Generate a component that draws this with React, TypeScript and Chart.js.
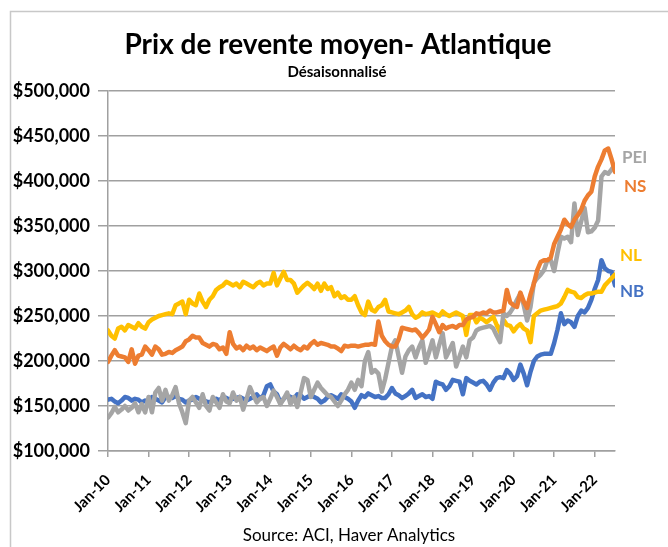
import React, { useEffect, useRef } from 'react';
import { Chart, registerables } from 'chart.js';

Chart.register(...registerables);

// Tick labels for the x axis (one per January)
const yearLabels = ['Jan-10', 'Jan-11', 'Jan-12', 'Jan-13', 'Jan-14', 'Jan-15', 'Jan-16', 'Jan-17', 'Jan-18', 'Jan-19', 'Jan-20', 'Jan-21', 'Jan-22'];

// Monthly values, in thousands of dollars, Jan-2010 .. Jul-2022
const peiValues = [
  137, 142, 149, 143, 146, 150, 145, 148, 153, 143, 152, 143,
  160, 143, 165, 170, 156, 168, 156, 162, 171, 153, 143, 131,
  156, 160, 154, 148, 163, 150, 145, 160, 154, 148, 163, 155,
  153, 165, 156, 160, 146, 158, 171, 162, 154, 158, 160, 150,
  158, 167, 160, 152, 158, 165, 152, 160, 149, 165, 181, 179,
  160, 168, 176, 170, 166, 162, 160, 155, 150, 156, 163, 168,
  176, 168, 179, 172, 200, 210, 187, 190, 186, 166, 180, 198,
  216, 223, 205, 187, 205, 212, 216, 204, 215, 223, 198, 210,
  223, 204, 218, 231, 204, 212, 220, 194, 205, 216, 204, 223,
  226, 234, 236, 237, 238, 239, 236, 228, 221, 253, 250, 254,
  260, 268, 275, 262, 245, 260, 287, 292, 296, 301, 312, 312,
  300, 320, 338, 336, 338, 332, 375, 340, 355, 370, 343, 344,
  348, 356, 405, 410, 408, 413, 418,
];

const nsValues = [
  199, 206, 212, 206, 205, 204, 199, 213, 197, 206, 207, 216,
  212, 207, 216, 213, 207, 208, 210, 209, 212, 214, 216, 222,
  224, 228, 226, 226, 220, 218, 216, 219, 218, 213, 215, 208,
  232, 219, 214, 216, 212, 217, 214, 216, 212, 215, 213, 211,
  214, 216, 206, 215, 219, 216, 213, 217, 214, 212, 216, 214,
  219, 222, 218, 220, 219, 218, 216, 216, 214, 211, 217, 216,
  217, 217, 216, 217, 218, 218, 219, 218, 244, 228, 222, 218,
  216, 216, 224, 237, 236, 235, 234, 235, 231, 226, 230, 235,
  249, 241, 232, 240, 236, 238, 239, 237, 240, 240, 246, 248,
  249, 253, 252, 254, 253, 256, 254, 254, 255, 256, 279, 265,
  262, 260, 276, 266, 259, 274, 286, 301, 310, 312, 312, 315,
  330, 338, 346, 357, 352, 349, 357, 362, 368, 378, 384, 388,
  405, 416, 424, 434, 436, 424, 410,
];

const nlValues = [
  234, 228, 225, 236, 238, 234, 240, 238, 236, 242, 238, 236,
  243, 246, 248, 250, 251, 252, 253, 252, 262, 264, 266, 252,
  268, 264, 262, 275, 266, 260, 268, 272, 279, 282, 284, 288,
  286, 284, 286, 282, 288, 286, 284, 282, 286, 288, 284, 286,
  286, 298, 284, 292, 299, 290, 290, 286, 276, 280, 284, 287,
  284, 280, 286, 278, 286, 280, 282, 272, 276, 270, 272, 268,
  268, 272, 262, 254, 251, 266, 257, 255, 260, 262, 268, 255,
  254, 253, 252, 254, 256, 260, 252, 248, 250, 254, 252, 253,
  254, 252, 250, 255, 252, 250, 252, 254, 252, 250, 229, 251,
  251, 243, 248, 246, 243, 246, 249, 240, 232, 246, 240, 239,
  233, 238, 241, 236, 234, 221, 250, 253, 256, 257, 258, 259,
  260, 261, 264, 271, 279, 277, 276, 271, 270, 273, 275, 275,
  276, 277, 277, 284, 288, 292, 296,
];

const nbValues = [
  157, 158, 155, 153, 156, 160, 159, 156, 158, 157, 154, 156,
  155, 160, 158, 156, 154, 160, 160, 159, 161, 158, 157, 154,
  156, 157, 160, 158, 157, 155, 154, 156, 158, 156, 160, 159,
  157, 158, 159, 160, 158, 156, 158, 160, 163, 158, 162, 172,
  174, 166, 163, 154, 158, 162, 160, 158, 163, 162, 158, 160,
  162, 160, 158, 154, 156, 160, 162, 160, 158, 163, 160, 158,
  155, 148, 156, 162, 160, 164, 162, 160, 161, 159, 159, 163,
  170, 164, 162, 159, 161, 164, 168, 159, 161, 163, 160, 161,
  158, 177, 175, 174, 168, 172, 179, 178, 177, 163, 181, 178,
  176, 174, 177, 178, 174, 168, 176, 181, 182, 181, 190, 186,
  179, 183, 196, 186, 173, 188, 200, 205, 207, 208, 208, 208,
  220, 235, 253, 241, 245, 243, 238, 250, 256, 254, 259, 268,
  280, 290, 312, 303, 300, 299, 284,
];

const seriesNames = ['PEI', 'NS', 'NL', 'NB'];
const seriesColors = ['#A5A5A5', '#ED7D31', '#FFC000', '#4472C4'];

const titleText = 'Prix de revente moyen- Atlantique';
const subtitleText = 'Désaisonnalisé';
const sourceText = 'Source: ACI, Haver Analytics';

const FONT = 'Lato, "Open Sans", sans-serif';
const GRID = '#a0a0a0';

export default function App() {
  const ref = useRef<HTMLCanvasElement>(null);

  useEffect(() => {
    const canvas = ref.current;
    if (!canvas) return;

    const toPoints = (arr: number[]) => arr.map((v, i) => ({ x: i, y: v }));
    const seriesData = [peiValues, nsValues, nlValues, nbValues];

    const labelPos: Record<string, [number, number]> = {
      PEI: [622, 158],
      NS: [624, 187],
      NL: [620, 256],
      NB: [620, 292],
    };

    const decor = {
      id: 'decor',
      beforeDraw(chart: any) {
        const ctx = chart.ctx;
        ctx.save();
        ctx.fillStyle = '#ffffff';
        ctx.fillRect(0, 0, chart.width, chart.height);
        ctx.strokeStyle = '#c8c8c8';
        ctx.lineWidth = 1.5;
        ctx.strokeRect(10.5, 11.5, 800, 800);
        ctx.restore();
      },
      afterDraw(chart: any) {
        const ctx = chart.ctx;
        ctx.save();
        ctx.fillStyle = '#000';
        ctx.textAlign = 'center';
        ctx.textBaseline = 'middle';
        ctx.font = `bold 28px ${FONT}`;
        ctx.fillText(titleText, 338, 45);
        ctx.font = `bold 15px ${FONT}`;
        ctx.fillText(subtitleText, 337, 72);
        ctx.font = `17px ${FONT}`;
        ctx.fillText(sourceText, 349, 536);
        ctx.textAlign = 'left';
        ctx.font = `bold 17px ${FONT}`;
        seriesNames.forEach((name, i) => {
          const [x, y] = labelPos[name];
          ctx.fillStyle = seriesColors[i];
          ctx.fillText(name, x, y);
        });
        ctx.restore();
      },
    };

    // drawing order: NS on top, then PEI, NL, NB
    const drawOrder = [1, 0, 2, 3];

    const chart = new Chart(canvas, {
      type: 'line',
      data: {
        datasets: seriesNames.map((name, i) => ({
          label: name,
          data: toPoints(seriesData[i]),
          borderColor: seriesColors[i],
          backgroundColor: seriesColors[i],
          borderWidth: 4.5,
          pointRadius: 0,
          tension: 0,
          borderJoinStyle: 'round' as const,
          borderCapStyle: 'round' as const,
          order: drawOrder[i],
        })),
      },
      options: {
        animation: false,
        responsive: false,
        layout: { padding: { top: 91, right: 53, bottom: 0, left: 0 } },
        plugins: {
          legend: { display: false },
          tooltip: { enabled: false },
          title: { display: false },
        },
        scales: {
          x: {
            type: 'linear',
            min: 0,
            max: peiValues.length - 1,
            afterBuildTicks: (s: any) => {
              s.ticks = yearLabels.map((_, k) => ({ value: k * 12 }));
            },
            afterFit: (s: any) => {
              s.height = 96;
            },
            ticks: {
              autoSkip: false,
              minRotation: 45,
              maxRotation: 45,
              padding: 14,
              color: '#000',
              font: { family: FONT, size: 15, weight: 'bold' },
              callback: (v: any) => yearLabels[Math.round(Number(v) / 12)] ?? '',
            },
            grid: { drawOnChartArea: false, drawTicks: true, tickLength: 6, color: GRID, lineWidth: 1.5 },
            border: { display: true, color: GRID, width: 1.5 },
          },
          y: {
            min: 100,
            max: 500,
            afterFit: (s: any) => {
              s.width = 108;
            },
            ticks: {
              stepSize: 50,
              padding: 8,
              color: '#000',
              font: { family: FONT, size: 18, weight: 'bold' },
              callback: (v: any) => '$' + (Number(v) * 1000).toLocaleString('en-US'),
            },
            grid: { color: GRID, lineWidth: 1.5, drawTicks: true, tickLength: 10 },
            border: { display: true, color: GRID, width: 1.5 },
          },
        },
      },
      plugins: [decor],
    } as any);

    return () => chart.destroy();
  }, []);

  return (
    <div style={{ position: 'absolute', left: 0, top: 0, width: 668, height: 547, background: '#fff' }}>
      <canvas ref={ref} width={668} height={547} style={{ display: 'block' }} />
    </div>
  );
}
